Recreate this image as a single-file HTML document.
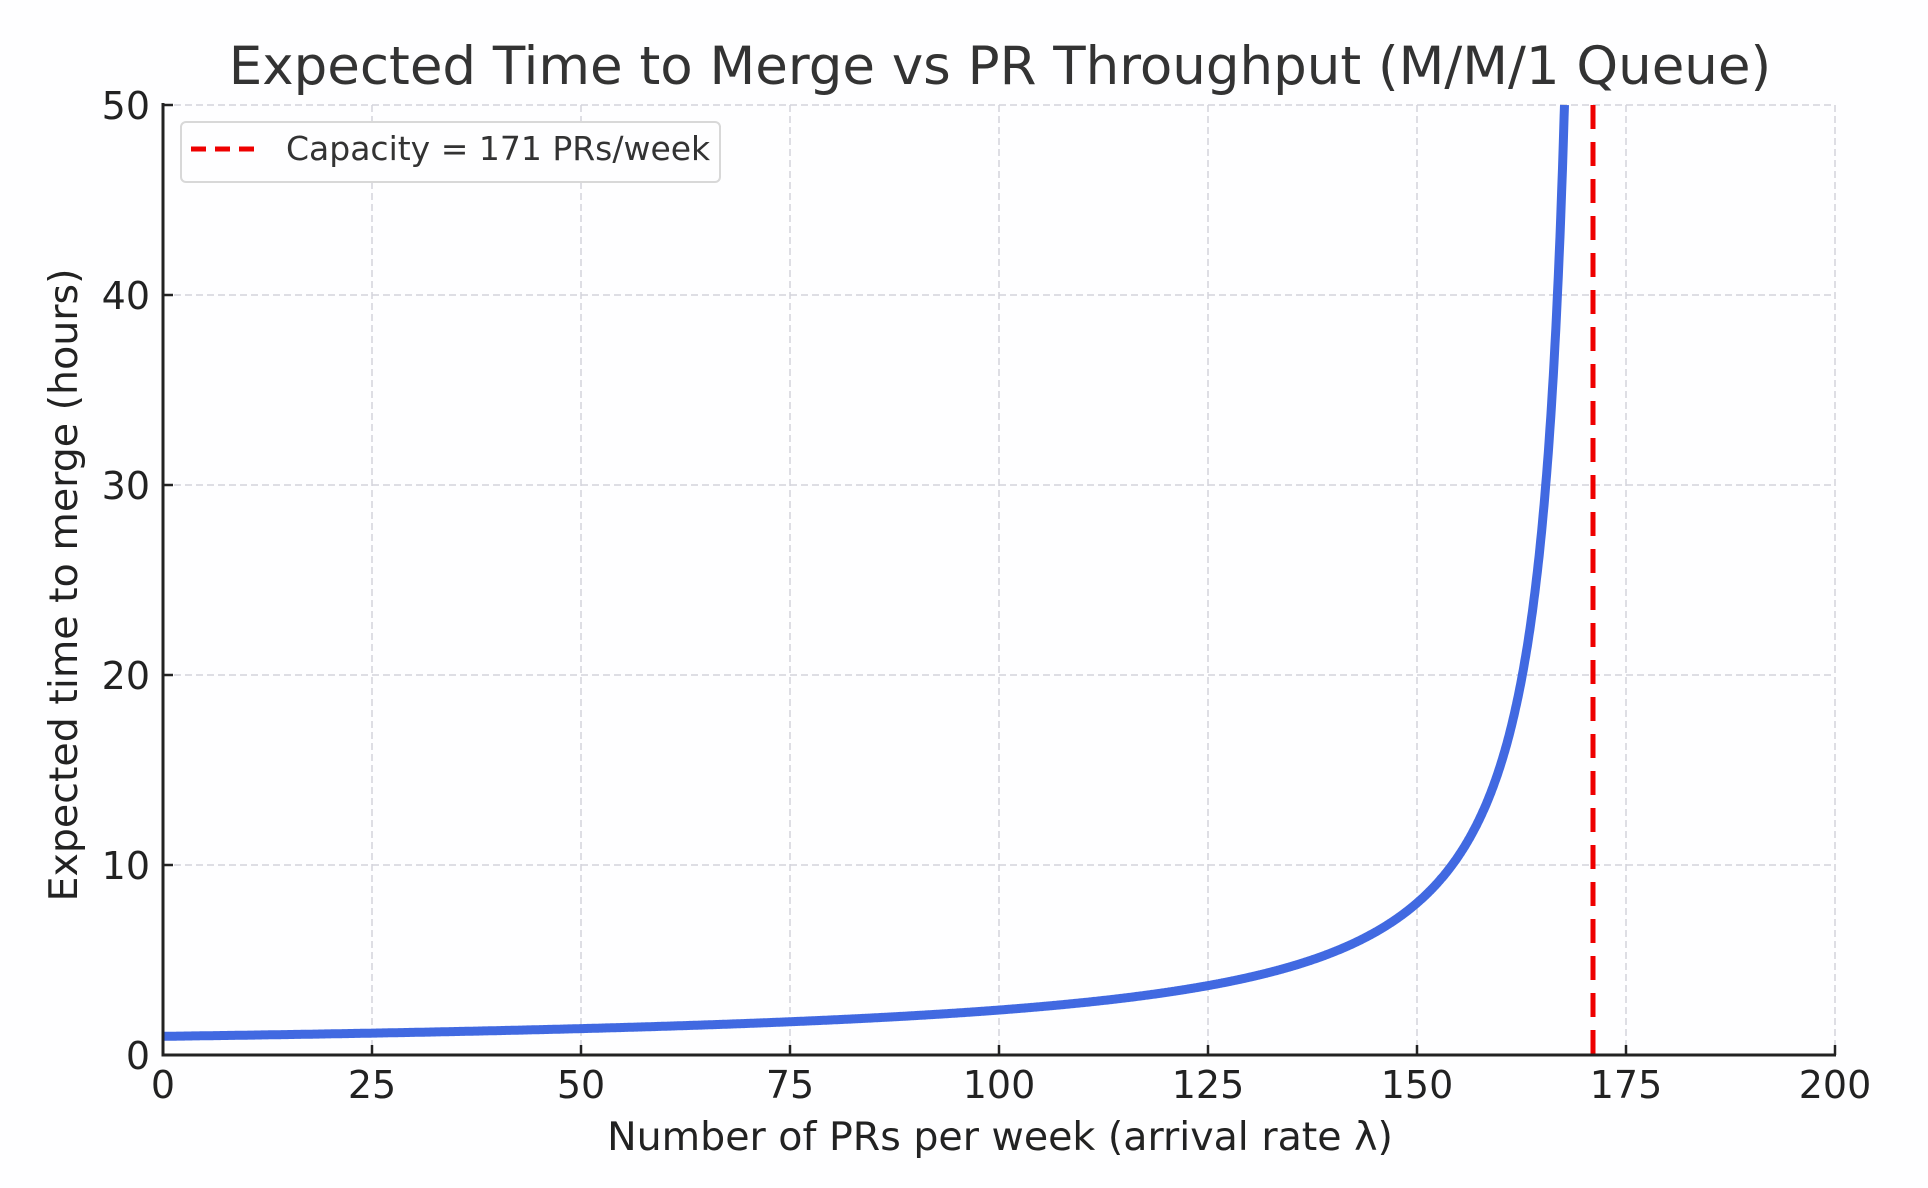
<!DOCTYPE html>
<html><head><meta charset="utf-8"><style>
html,body{margin:0;padding:0;background:#fefeff;}
svg{display:block;font-family:"DejaVu Sans","Liberation Sans",sans-serif;}
</style></head><body>
<svg id="s" width="1928" height="1188" viewBox="0 0 1928 1188" xmlns="http://www.w3.org/2000/svg">
<rect width="1928" height="1188" fill="#fefeff"/>
<text x="1000" y="84" font-size="53" fill="#333" text-anchor="middle">Expected Time to Merge vs PR Throughput (M/M/1 Queue)</text>
<g stroke="#d4d4dc" stroke-width="1.5" stroke-dasharray="7,4" fill="none">
<line x1="372" y1="105" x2="372" y2="1055"/><line x1="581" y1="105" x2="581" y2="1055"/>
<line x1="790" y1="105" x2="790" y2="1055"/><line x1="999" y1="105" x2="999" y2="1055"/>
<line x1="1208" y1="105" x2="1208" y2="1055"/><line x1="1417" y1="105" x2="1417" y2="1055"/>
<line x1="1626" y1="105" x2="1626" y2="1055"/><line x1="1835" y1="105" x2="1835" y2="1055"/>
<line x1="163" y1="105" x2="1835" y2="105"/><line x1="163" y1="295" x2="1835" y2="295"/>
<line x1="163" y1="485" x2="1835" y2="485"/><line x1="163" y1="675" x2="1835" y2="675"/>
<line x1="163" y1="865" x2="1835" y2="865"/>
</g>
<path id="curve" fill="none" stroke="#4169e1" stroke-width="9" stroke-linejoin="round"/>
<line x1="1593" y1="105" x2="1593" y2="1055" stroke="#ee0000" stroke-width="5" stroke-dasharray="24,13"/>
<g stroke="#222" stroke-width="3" fill="none">
<line x1="163" y1="103" x2="163" y2="1056"/><line x1="161.5" y1="1055" x2="1836" y2="1055"/>
</g>
<g stroke="#222" stroke-width="2.5">
<line x1="163" y1="1055" x2="163" y2="1045"/><line x1="372" y1="1055" x2="372" y2="1045"/><line x1="581" y1="1055" x2="581" y2="1045"/><line x1="790" y1="1055" x2="790" y2="1045"/><line x1="999" y1="1055" x2="999" y2="1045"/><line x1="1208" y1="1055" x2="1208" y2="1045"/><line x1="1417" y1="1055" x2="1417" y2="1045"/><line x1="1626" y1="1055" x2="1626" y2="1045"/><line x1="1835" y1="1055" x2="1835" y2="1045"/>
<line x1="163" y1="105" x2="173" y2="105"/><line x1="163" y1="295" x2="173" y2="295"/><line x1="163" y1="485" x2="173" y2="485"/><line x1="163" y1="675" x2="173" y2="675"/><line x1="163" y1="865" x2="173" y2="865"/>
</g>
<g font-size="38" fill="#222" text-anchor="middle">
<text x="163" y="1098">0</text><text x="372" y="1098">25</text><text x="581" y="1098">50</text><text x="790" y="1098">75</text><text x="999" y="1098">100</text><text x="1208" y="1098">125</text><text x="1417" y="1098">150</text><text x="1626" y="1098">175</text><text x="1835" y="1098">200</text>
</g>
<g font-size="38" fill="#222" text-anchor="end">
<text x="150" y="1069">0</text><text x="150" y="879">10</text><text x="150" y="689">20</text><text x="150" y="499">30</text><text x="150" y="309">40</text><text x="150" y="119">50</text>
</g>
<text x="1000" y="1150" font-size="39.5" fill="#222" text-anchor="middle">Number of PRs per week (arrival rate λ)</text>
<text transform="translate(77,585) rotate(-90)" font-size="39.5" fill="#222" text-anchor="middle">Expected time to merge (hours)</text>
<rect x="181" y="122" width="539" height="60" rx="5" fill="#fefeff" stroke="#d8d8d8" stroke-width="2"/>
<line x1="191" y1="149" x2="259" y2="149" stroke="#ee0000" stroke-width="5" stroke-dasharray="15,9"/>
<text x="286" y="160" font-size="33" fill="#333">Capacity = 171 PRs/week</text>
</svg>
<script>
var d="",mu=171,lm=mu-168/50;
for(var l=0;l<lm;l+=0.1){var w=168/(mu-l);var y=1055-w*19;var x=163+l*8.36;d+=(d?"L":"M")+x.toFixed(1)+","+y.toFixed(1);}
d+="L"+(163+lm*8.36).toFixed(1)+",105";
document.getElementById("curve").setAttribute("d",d);
</script>
</body></html>
